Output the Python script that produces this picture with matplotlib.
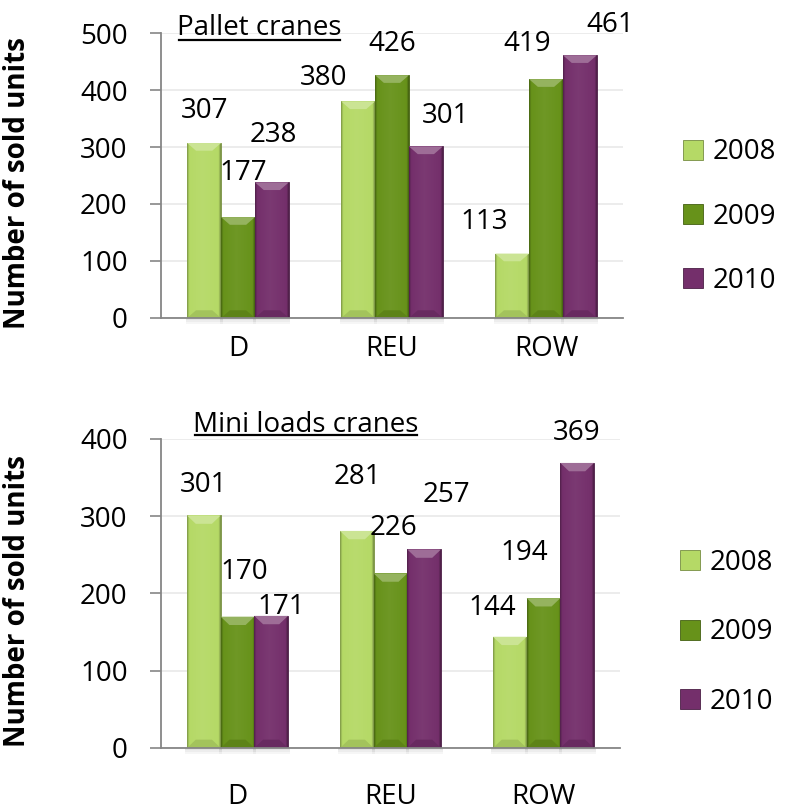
import numpy as np
import matplotlib.pyplot as plt
from matplotlib.colors import LinearSegmentedColormap, to_rgb
from matplotlib.patches import Polygon, Rectangle
from matplotlib.lines import Line2D
from matplotlib.transforms import offset_copy

plt.rcParams['font.family'] = ['Open Sans', 'DejaVu Sans']

regions = ['D', 'REU', 'ROW']
years = ['2008', '2009', '2010']

# Pallet cranes, sold units per region
pallet_2008 = [307, 380, 113]
pallet_2009 = [177, 426, 419]
pallet_2010 = [238, 301, 461]

# Mini loads cranes, sold units per region
mini_2008 = [301, 281, 144]
mini_2009 = [170, 226, 194]
mini_2010 = [171, 257, 369]

colors = ['#b5d966', '#67921a', '#742f6b']

# value label nudges in pixels (dx, dy) per year, per region
pallet_nudge = [[(0, 32), (-35, 23), (-28, 32)],
                [(5, 44), (0, 31), (-19, 35)],
                [(1, 47), (20, 30), (30, 30)]]
mini_nudge = [[(0, 30), (1, 54), (-18, 29)],
              [(7, 45), (3, 45), (-19, 45)],
              [(10, 9), (22, 54), (-1, 30)]]

FS = 20
W = 0.22


def shade(c, f):
    c = np.array(to_rgb(c))
    if f < 1:
        return tuple(c * f)
    return tuple(c + (1 - c) * (f - 1))


def bevel_bar(ax, patch, color, bev):
    x, y = patch.get_x(), patch.get_y()
    w, h = patch.get_width(), patch.get_height()
    cmap = LinearSegmentedColormap.from_list(
        'b', [(0, shade(color, 0.7)), (0.06, color), (0.45, shade(color, 1.05)),
              (0.94, color), (1, shade(color, 0.65))])
    im = ax.imshow(np.linspace(0, 1, 64).reshape(1, -1), cmap=cmap, aspect='auto',
                   extent=[x, x + w, y, y + h], zorder=2, interpolation='bilinear')
    im.set_clip_path(patch)
    top = y + h
    ax.add_patch(Polygon([(x, top), (x + w, top), (x + 0.74 * w, top - bev), (x + 0.26 * w, top - bev)],
                         closed=True, facecolor=shade(color, 1.3), edgecolor='none', zorder=3))
    ax.add_patch(Polygon([(x, y), (x + w, y), (x + 0.74 * w, y + bev), (x + 0.26 * w, y + bev)],
                         closed=True, facecolor=shade(color, 0.9), edgecolor='none', zorder=3))
    # soft shadow under the bar base
    for k, a in enumerate([0.22, 0.14, 0.07]):
        ax.add_patch(Rectangle((x - 0.01, y - bev * 0.25 * (k + 1)), w + 0.02, bev * 0.25,
                               facecolor='#808080', alpha=a, edgecolor='none',
                               zorder=1, clip_on=False))


def draw_panel(ax, series, nudges, ymax, step, title, title_x, title_dy, xpad, leg_y, leg_space):
    x = np.arange(len(regions))
    bev = ymax * 0.027
    for i, (vals, col) in enumerate(zip(series, colors)):
        bars = ax.bar(x + (i - 1) * W, vals, W, color=col, edgecolor=shade(col, 0.65),
                      linewidth=0.6, label=years[i], zorder=2)
        for p in bars:
            bevel_bar(ax, p, col, bev)
        for j, v in enumerate(vals):
            dx, dy = nudges[i][j]
            ax.annotate(str(v), (x[j] + (i - 1) * W, v), xytext=(dx, dy),
                        textcoords='offset pixels', ha='center', va='center',
                        fontsize=FS, color='black', zorder=5)

    ax.set_xlim(-0.5, len(regions) - 0.5)
    ax.set_ylim(0, ymax)
    ax.set_yticks(np.arange(0, ymax + 1, step))
    ax.set_xticks(x)
    ax.set_xticklabels(regions)
    ax.tick_params(axis='x', length=0, pad=xpad, labelsize=FS)
    ax.tick_params(axis='y', length=8, width=1.2, color='#868686', pad=16, labelsize=FS)
    ax.yaxis.grid(True, color='#e9e9e9', linewidth=1.2, zorder=0)
    ax.set_axisbelow(True)
    for s in ['top', 'right']:
        ax.spines[s].set_visible(False)
    for s in ['left', 'bottom']:
        ax.spines[s].set_color('#868686')
        ax.spines[s].set_linewidth(1.3)
        ax.spines[s].set_zorder(4)

    ax.set_ylabel('Number of sold units', fontsize=FS, fontweight='bold')
    tr = offset_copy(ax.transAxes, fig=ax.figure, x=0, y=title_dy, units='dots')
    t = ax.text(title_x, 1.0, title, transform=tr, fontsize=FS,
                ha='left', va='baseline', zorder=6)

    ax.legend(loc='upper left', bbox_to_anchor=(1.13, leg_y), frameon=False,
              fontsize=FS, handlelength=0.72, handleheight=0.72, handletextpad=0.35,
              labelspacing=leg_space, borderaxespad=0, borderpad=0)
    return t


fig = plt.figure(figsize=(7.9, 8.11), dpi=100)
ax1 = fig.add_axes([0.2038, 0.6079, 0.5848, 0.3514])
ax2 = fig.add_axes([0.2038, 0.0777, 0.5810, 0.3810])

t1 = draw_panel(ax1, [pallet_2008, pallet_2009, pallet_2010], pallet_nudge,
                500, 100, 'Pallet cranes', 0.035, -2, 12, 0.63, 1.3)
t2 = draw_panel(ax2, [mini_2008, mini_2009, mini_2010], mini_nudge,
                400, 100, 'Mini loads cranes', 0.07, 7, 25, 0.645, 1.5)

ax1.yaxis.set_label_coords(-0.279, 0.474)
ax2.yaxis.set_label_coords(-0.281, 0.476)

# underline the panel titles just below their baseline
fig.canvas.draw()
r = fig.canvas.get_renderer()
for t, gap in [(t1, 5), (t2, 3)]:
    bb = t.get_window_extent(r)
    base = t.get_transform().transform(t.get_position())[1]
    yl = (base - gap) / fig.bbox.height
    fig.add_artist(Line2D([bb.x0 / fig.bbox.width + 0.002, bb.x1 / fig.bbox.width - 0.002],
                          [yl, yl], color='black', linewidth=1.6))

fig.savefig('out.png', dpi=100)
